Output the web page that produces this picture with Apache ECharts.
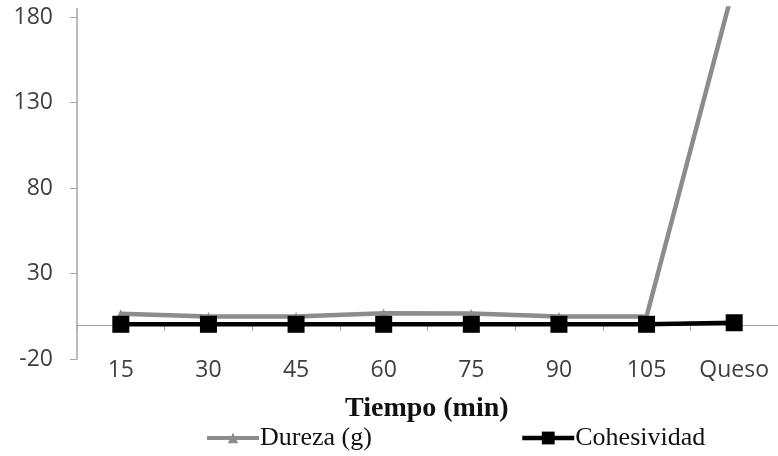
<!DOCTYPE html>
<html>
<head>
<meta charset="utf-8">
<script src="https://cdn.jsdelivr.net/npm/echarts@6/dist/echarts.min.js"></script>
<style>
  html, body { margin: 0; padding: 0; background: #fff; }
  #chart { width: 778px; height: 456px; }
</style>
</head>
<body>
<div id="chart"></div>
<script>
// Tiempo de elaboración (min) y el queso final
const categories = ['15', '30', '45', '60', '75', '90', '105', 'Queso'];
// Dureza (g)
const dureza = [6.4, 4.9, 4.8, 6.7, 6.6, 4.9, 4.9, 199];
// Cohesividad
const cohesividad = [0.3, 0.3, 0.3, 0.3, 0.3, 0.3, 0.3, 1.2];
// Marcas del eje vertical
const yTicks = [-20, 30, 80, 130, 180];

const chart = echarts.init(document.getElementById('chart'), null, { renderer: 'canvas' });

const labelFont = { fontFamily: 'Open Sans', fontSize: 23, color: '#404040' };
const legendText = { fontFamily: 'Liberation Serif', fontSize: 26, color: '#111', padding: [0, 0, 0, -4] };

chart.setOption({
  animation: false,
  backgroundColor: '#ffffff',
  title: {
    text: 'Tiempo (min)',
    left: 345,
    top: 395,
    padding: 0,
    textStyle: { fontFamily: 'Liberation Serif', fontWeight: 'bold', fontSize: 28, color: '#111' }
  },
  legend: [
    {
      data: ['Dureza (g)'],
      left: 205, top: 425, padding: 0,
      itemWidth: 52, itemHeight: 13, itemGap: 0,
      lineStyle: { width: 4, color: '#8c8c8c' },
      textStyle: legendText
    },
    {
      data: ['Cohesividad'],
      left: 520, top: 425, padding: 0,
      itemWidth: 52, itemHeight: 16, itemGap: 0,
      lineStyle: { width: 4.5, color: '#000' },
      textStyle: legendText
    }
  ],
  grid: { left: 77, right: -5, top: 8.5, bottom: 97, containLabel: false },
  xAxis: [
    {
      // rótulos de categoría al pie del gráfico
      type: 'category',
      data: categories,
      position: 'bottom',
      boundaryGap: true,
      axisLine: { show: false, onZero: false },
      axisTick: { show: false },
      axisLabel: Object.assign({ margin: 0, interval: 0 }, labelFont),
      splitLine: { show: false }
    },
    {
      // línea del eje en cero, con una marca en cada límite entre categorías
      type: 'value',
      min: 0,
      max: categories.length,
      interval: 1,
      position: 'bottom',
      axisLine: { show: true, onZero: true, onZeroAxisIndex: 0, lineStyle: { color: '#a6a6a6', width: 1 } },
      axisTick: { show: true, inside: false, length: 6, lineStyle: { color: '#a6a6a6', width: 1 } },
      axisLabel: { show: false },
      splitLine: { show: false }
    }
  ],
  yAxis: {
    type: 'value',
    min: -20,
    max: 185,
    interval: 50,
    axisLine: { show: true, lineStyle: { color: '#a6a6a6', width: 1.5 } },
    axisTick: { show: true, length: 7, customValues: yTicks, lineStyle: { color: '#a6a6a6', width: 1 } },
    axisLabel: Object.assign({ margin: 24, customValues: yTicks }, labelFont),
    splitLine: { show: false }
  },
  series: [
    {
      name: 'Dureza (g)',
      type: 'line',
      xAxisIndex: 0,
      data: dureza,
      clip: true,
      symbol: 'triangle',
      symbolSize: 9,
      itemStyle: { color: '#8c8c8c' },
      lineStyle: { color: '#8c8c8c', width: 4.5 },
      z: 2
    },
    {
      name: 'Cohesividad',
      type: 'line',
      xAxisIndex: 0,
      data: cohesividad,
      clip: true,
      symbol: 'rect',
      symbolSize: 17,
      itemStyle: { color: '#000' },
      lineStyle: { color: '#000', width: 4.5 },
      z: 3
    }
  ]
});
</script>
</body>
</html>
